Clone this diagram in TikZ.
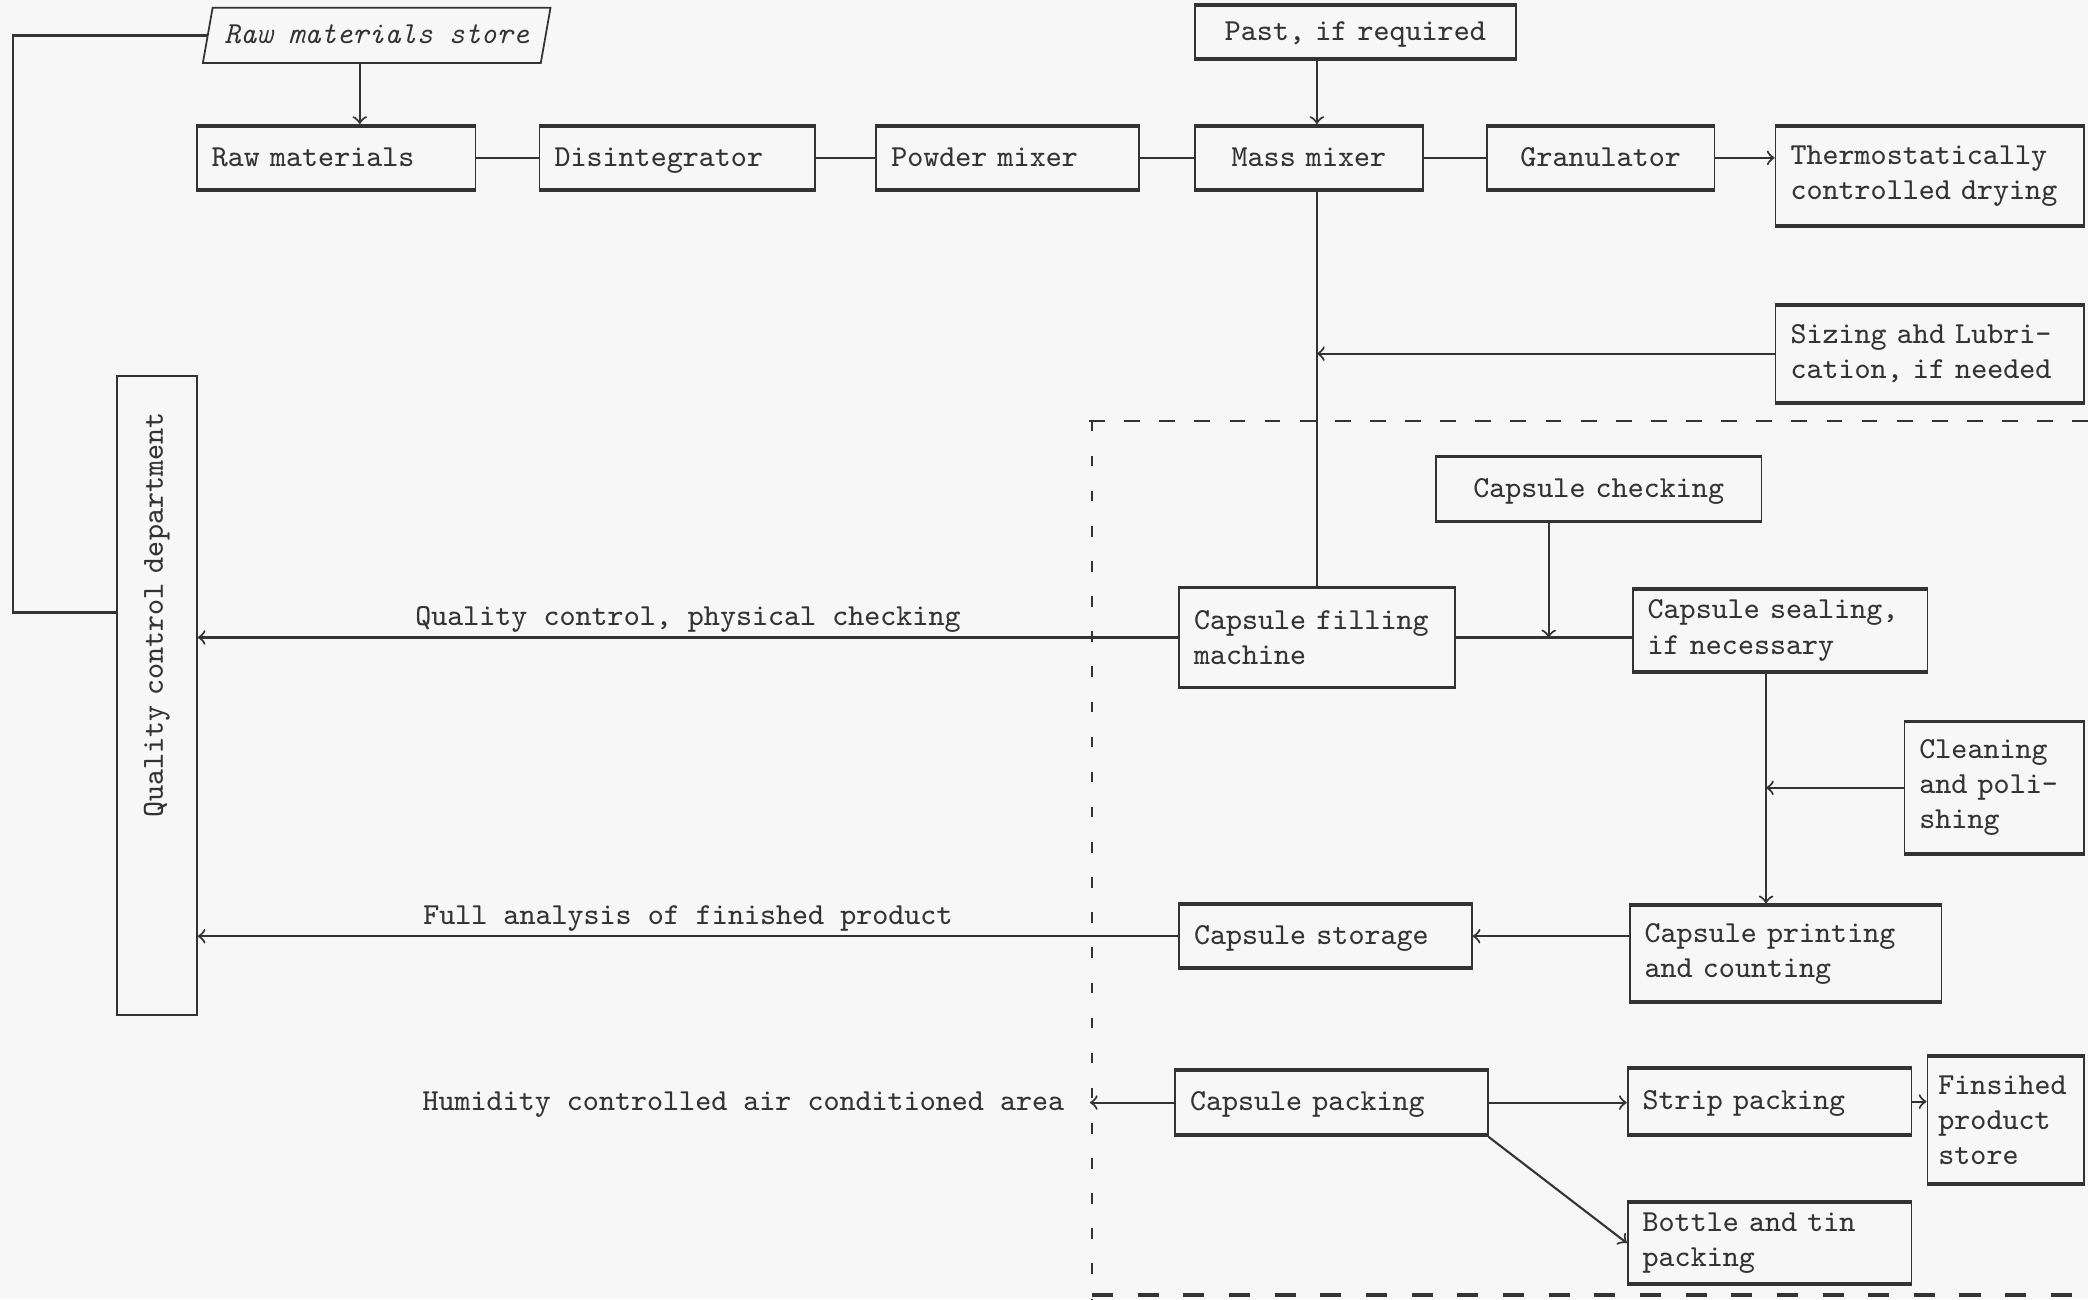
\documentclass[tikz,border=0pt]{standalone}
\usetikzlibrary{shapes,arrows}
\newcommand{\typefont}{\ttfamily\fontsize{8.7}{10}\selectfont}
\tikzstyle{plain} = [rectangle, draw=black!80, line width=0.5pt,
    align=left, inner xsep=0.15cm, font=\typefont, text=black!80]
\tikzstyle{block} = [plain, path picture={
    \draw[black!80, line width=1.6pt]
      (path picture bounding box.north west) -- (path picture bounding box.north east)
      (path picture bounding box.south west) -- (path picture bounding box.south east);}]
\tikzstyle{cblock} = [block, align=center]
\tikzstyle{one} = [text height=1.6ex, text depth=0.5ex]
\tikzstyle{storebox} = [trapezium, draw=black!80, line width=0.5pt,
    trapezium left angle=80, trapezium right angle=100,
    trapezium stretches=true, font=\typefont\itshape, text=black!80]
\tikzstyle{note} = [font=\typefont, text=black!80]
\tikzstyle{link} = [draw=black!80, line width=0.6pt]

\begin{document}
\begin{tikzpicture}[>=to]
    \fill [black!3] (0,0) rectangle (20.9,-13);

    % granulation line
    \node (store) [storebox, one, minimum width=3.4cm, minimum height=0.49cm] at (3.77,-0.355) {Raw materials store};
    \node (raw) [block, one, text width=2.49cm, minimum height=0.66cm] at (3.365,-1.58) {Raw materials};
    \node (dis) [block, one, text width=2.46cm, minimum height=0.66cm] at (6.78,-1.58) {Disintegrator};
    \node (pow) [block, one, text width=2.33cm, minimum height=0.66cm] at (10.085,-1.58) {Powder mixer};
    \node (mass) [cblock, one, text width=1.98cm, minimum height=0.66cm] at (13.10,-1.58) {Mass mixer};
    \node (gran) [cblock, one, text width=1.98cm, minimum height=0.66cm] at (16.02,-1.58) {Granulator};
    \node (thermo) [block, text width=2.79cm, minimum height=1.02cm] at (19.315,-1.76) {Thermostatically\\controlled drying};
    \node (past) [cblock, one, text width=2.91cm, minimum height=0.56cm] at (13.565,-0.32) {Past, if required};
    \node (sizing) [block, text width=2.79cm, minimum height=1.0cm] at (19.315,-3.54) {Sizing ahd Lubri-\\cation, if needed};

    % quality control (rotated: north is the left side, south the right side)
    \node (qc) [plain, rotate=90, align=right, text width=5.66cm, inner xsep=0.37cm, minimum height=0.8cm] at (1.57,-6.96) {Quality control department};

    % capsule line
    \node (check) [cblock, one, text width=2.96cm, minimum height=0.67cm] at (16.0,-4.895) {Capsule checking};
    \node (fill) [block, text width=2.46cm, minimum height=1.02cm] at (13.18,-6.38) {Capsule filling\\machine};
    \node (seal) [block, text width=2.65cm, minimum height=0.84cm] at (17.815,-6.31) {Capsule sealing,\\if necessary};
    \node (clean) [block, text width=1.5cm, minimum height=1.35cm] at (19.96,-7.885) {Cleaning\\and poli-\\shing};
    \node (print) [block, text width=2.82cm, minimum height=0.99cm] at (17.87,-9.545) {Capsule printing\\and counting};
    \node (storage) [block, one, text width=2.63cm, minimum height=0.66cm] at (13.265,-9.37) {Capsule storage};
    \node (pack) [block, one, text width=2.83cm, minimum height=0.67cm] at (13.325,-11.035) {Capsule packing};
    \node (strip) [block, one, text width=2.54cm, minimum height=0.69cm] at (17.71,-11.025) {Strip packing};
    \node (fin) [block, text width=1.35cm, inner xsep=0.11cm, minimum height=1.3cm] at (20.075,-11.21) {Finsihed\\product\\store};
    \node (bottle) [block, text width=2.54cm, minimum height=0.84cm] at (17.71,-12.44) {Bottle and tin\\packing};
    \node (hum) [note, one, inner xsep=0.25cm] at (7.44,-11.035) {Humidity controlled air conditioned area};

    \coordinate (loop) at (0.13,-6.13);
    \coordinate (feed) at ([xshift=-5mm]check.south);
    \coordinate (drop) at ([xshift=-1.4mm]seal.south);

    \draw [->, link] ([xshift=-1.7mm]store.south) -- ([xshift=-1.7mm]store.south |- raw.north);
    \draw [link] (store.west) -| (loop) -- (loop -| qc.north);
    \draw [link] (raw) -- (dis);
    \draw [link] (dis) -- (pow);
    \draw [link] (pow) -- (mass);
    \draw [link] (mass) -- (gran);
    \draw [->, link] (gran.east) -- (gran.east -| thermo.west);
    \draw [->, link] (past.south -| fill.north) -- (mass.north -| fill.north);
    \draw [link] (mass.south -| fill.north) -- (fill.north);
    \draw [->, link] (sizing.west) -- (sizing.west -| fill.north);

    \draw [link] (fill.east) -- (fill.east -| seal.west);
    \draw [->, link] (feed) -- (feed |- fill.east);
    \draw [->, link] (drop) -- (drop |- print.north);
    \draw [->, link] (clean.west) -- (clean.west -| drop);
    \draw [->, link] (print.west |- storage.east) -- (storage.east);
    \draw [->, link] (fill.west) -- (fill.west -| qc.south)
        node [midway, above, note, inner sep=1pt] {Quality control, physical checking};
    \draw [->, link] (storage.west) -- (storage.west -| qc.south)
        node [midway, above, note, inner sep=1pt] {Full analysis of finished product};
    \draw [->, link] (pack.west) -- (hum.east);
    \draw [->, link] (pack.east) -- (pack.east -| strip.west);
    \draw [->, link] (strip.east) -- (strip.east -| fin.west);
    \draw [->, link] (pack.south east) -- (bottle.west);

    % air conditioned area
    \draw [black!80, line width=0.6pt, dash pattern=on 4.5pt off 5.5pt] (10.90,-4.21) -- (20.9,-4.21);
    \draw [black!80, line width=0.6pt, dash pattern=on 3pt off 7pt] (10.93,-4.21) -- (10.93,-13);
    \draw [black!80, line width=1pt, dash pattern=on 6pt off 7pt] (10.93,-12.96) -- (20.9,-12.96);
\end{tikzpicture}
\end{document}
